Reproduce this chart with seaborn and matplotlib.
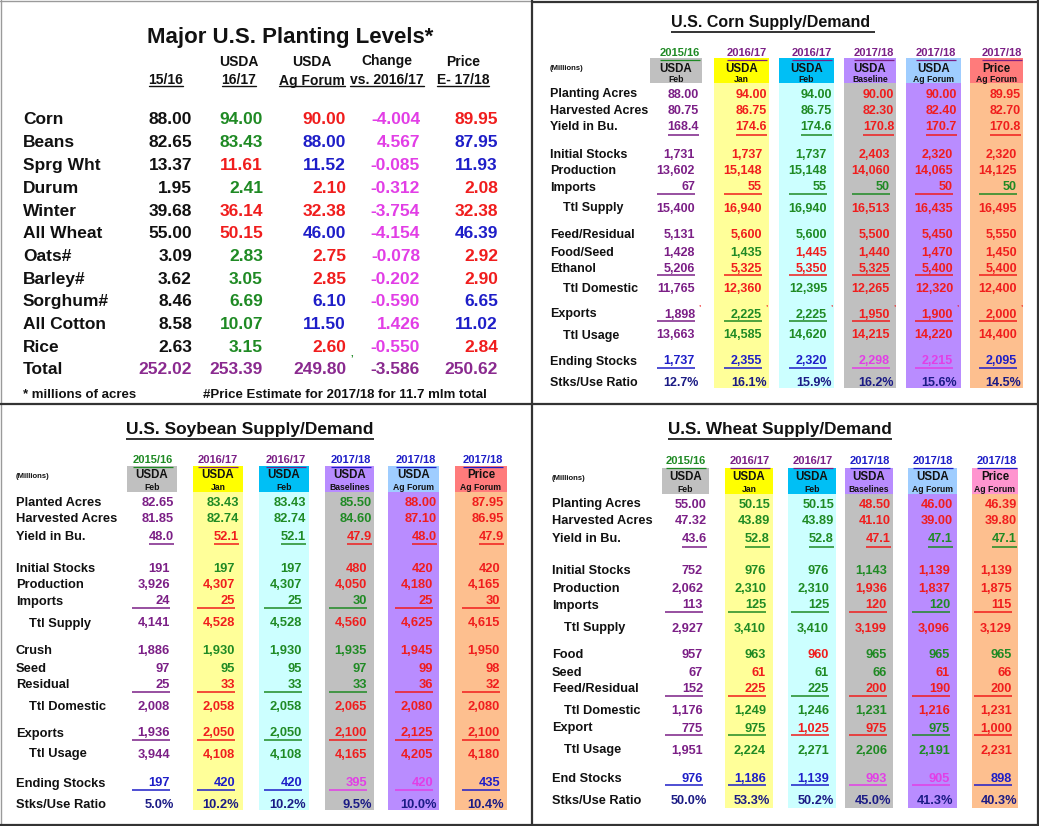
import matplotlib
matplotlib.use('Agg')
import matplotlib.pyplot as plt
import seaborn as sns

# ---------------- data: Major U.S. planting levels (millions of acres)
crops = ['Corn', 'Beans', 'Sprg Wht', 'Durum', 'Winter', 'All Wheat', 'Oats#',
         'Barley#', 'Sorghum#', 'All Cotton', 'Rice', 'Total']
plant_1516 = [88.00, 82.65, 13.37, 1.95, 39.68, 55.00, 3.09, 3.62, 8.46, 8.58, 2.63, 252.02]
plant_1617 = [94.00, 83.43, 11.61, 2.41, 36.14, 50.15, 2.83, 3.05, 6.69, 10.07, 3.15, 253.39]
plant_agforum = [90.00, 88.00, 11.52, 2.10, 32.38, 46.00, 2.75, 2.85, 6.10, 11.50, 2.60, 249.80]
plant_change = [-4.004, 4.567, -0.085, -0.312, -3.754, -4.154, -0.078, -0.202, -0.590, 1.426, -0.550, -3.586]
plant_price = [89.95, 87.95, 11.93, 2.08, 32.38, 46.39, 2.92, 2.90, 6.65, 11.02, 2.84, 250.62]

# ---------------- data: supply/demand tables
sd_years = ['2015/16', '2016/17', '2016/17', '2017/18', '2017/18', '2017/18']
sd_head = ['USDA', 'USDA', 'USDA', 'USDA', 'USDA', 'Price']
corn_sub = ['Feb', 'Jan', 'Feb', 'Baseline', 'Ag Forum', 'Ag Forum']
beans_sub = ['Feb', 'Jan', 'Feb', 'Baselines', 'Ag Forum', 'Ag Forum']
wheat_sub = beans_sub

corn_rows = ['Planting Acres', 'Harvested Acres', 'Yield in Bu.', 'Initial Stocks',
             'Production', 'Imports', 'Ttl Supply', 'Feed/Residual', 'Food/Seed',
             'Ethanol', 'Ttl Domestic', 'Exports', 'Ttl Usage', 'Ending Stocks',
             'Stks/Use Ratio']
corn_values = [
    [88.00, 94.00, 94.00, 90.00, 90.00, 89.95],
    [80.75, 86.75, 86.75, 82.30, 82.40, 82.70],
    [168.4, 174.6, 174.6, 170.8, 170.7, 170.8],
    [1731, 1737, 1737, 2403, 2320, 2320],
    [13602, 15148, 15148, 14060, 14065, 14125],
    [67, 55, 55, 50, 50, 50],
    [15400, 16940, 16940, 16513, 16435, 16495],
    [5131, 5600, 5600, 5500, 5450, 5550],
    [1428, 1435, 1445, 1440, 1470, 1450],
    [5206, 5325, 5350, 5325, 5400, 5400],
    [11765, 12360, 12395, 12265, 12320, 12400],
    [1898, 2225, 2225, 1950, 1900, 2000],
    [13663, 14585, 14620, 14215, 14220, 14400],
    [1737, 2355, 2320, 2298, 2215, 2095],
    [12.7, 16.1, 15.9, 16.2, 15.6, 14.5],
]

beans_rows = ['Planted Acres', 'Harvested Acres', 'Yield in Bu.', 'Initial Stocks',
              'Production', 'Imports', 'Ttl Supply', 'Crush', 'Seed', 'Residual',
              'Ttl Domestic', 'Exports', 'Ttl Usage', 'Ending Stocks', 'Stks/Use Ratio']
beans_values = [
    [82.65, 83.43, 83.43, 85.50, 88.00, 87.95],
    [81.85, 82.74, 82.74, 84.60, 87.10, 86.95],
    [48.0, 52.1, 52.1, 47.9, 48.0, 47.9],
    [191, 197, 197, 480, 420, 420],
    [3926, 4307, 4307, 4050, 4180, 4165],
    [24, 25, 25, 30, 25, 30],
    [4141, 4528, 4528, 4560, 4625, 4615],
    [1886, 1930, 1930, 1935, 1945, 1950],
    [97, 95, 95, 97, 99, 98],
    [25, 33, 33, 33, 36, 32],
    [2008, 2058, 2058, 2065, 2080, 2080],
    [1936, 2050, 2050, 2100, 2125, 2100],
    [3944, 4108, 4108, 4165, 4205, 4180],
    [197, 420, 420, 395, 420, 435],
    [5.0, 10.2, 10.2, 9.5, 10.0, 10.4],
]

wheat_rows = ['Planting Acres', 'Harvested Acres', 'Yield in Bu.', 'Initial Stocks',
              'Production', 'Imports', 'Ttl Supply', 'Food', 'Seed', 'Feed/Residual',
              'Ttl Domestic', 'Export', 'Ttl Usage', 'End Stocks', 'Stks/Use Ratio']
wheat_values = [
    [55.00, 50.15, 50.15, 48.50, 46.00, 46.39],
    [47.32, 43.89, 43.89, 41.10, 39.00, 39.80],
    [43.6, 52.8, 52.8, 47.1, 47.1, 47.1],
    [752, 976, 976, 1143, 1139, 1139],
    [2062, 2310, 2310, 1936, 1837, 1875],
    [113, 125, 125, 120, 120, 115],
    [2927, 3410, 3410, 3199, 3096, 3129],
    [957, 963, 960, 965, 965, 965],
    [67, 61, 61, 66, 61, 66],
    [152, 225, 225, 200, 190, 200],
    [1176, 1249, 1246, 1231, 1216, 1231],
    [775, 975, 1025, 975, 975, 1000],
    [1951, 2224, 2271, 2206, 2191, 2231],
    [976, 1186, 1139, 993, 905, 898],
    [50.0, 53.3, 50.2, 45.0, 41.3, 40.3],
]

# ---------------- styles
PAL = {'K': '#111111', 'P': '#7b1f86', 'R': '#f01d1d', 'G': '#1f8a24',
       'B': '#1e1ec8', 'M': '#e23ee6', 'N': '#1b1b85', 'V': '#8a2a8f'}

plant_colors = ['KGRMR', 'KGBMB', 'KRBMB', 'KGRMR', 'KRRMR', 'KRBMB',
                'KGRMR', 'KGRMR', 'KGBMB', 'KGBMB', 'KGRMR', 'VVVVV']

corn_colors = ['PRGRRR', 'PRGRRR', 'PRGRRR', 'PRGRRR', 'PRGRRR', 'PRGGRG', 'PRGRRR',
               'PRGRRR', 'PGRRRR', 'PRRRRR', 'PRGRRR', 'PGGRRR', 'PGGRRR',
               'BBBMMB', 'NNNNNN']
beans_colors = ['PGGGRR', 'PGGGRR', 'PRGRRR', 'PGGRRR', 'PRGRRR', 'PRGGRR', 'PRGRRR',
                'PGGGRR', 'PGGGRR', 'PRGGRR', 'PRGRRR', 'PRGRRR', 'PRGRRR',
                'BBBMMB', 'NNNNNN']
wheat_colors = ['PGGRRR', 'PGGRRR', 'PGGRGG', 'PGGGRR', 'PGGRRR', 'PGGRGR', 'PGGRRR',
                'PGRGGG', 'PRGGRR', 'PRGRRR', 'PGGGRR', 'PGRRGR', 'PGGGGR',
                'BBBMMB', 'NNNNNN']
year_colors_corn = ['G', 'P', 'P', 'P', 'P', 'P']
year_colors_bw = ['G', 'P', 'P', 'B', 'B', 'B']

head_fill = ['#c0c0c0', '#ffff00', '#00bff5', '#b88cff', '#9fcdff', '#ff7b7b']
body_fill = [None, '#ffff99', '#ccffff', '#c0c0c0', '#b98cff', '#fdbf8f']

sns.set_theme(style='white')
plt.rcParams['font.family'] = ['Liberation Sans', 'DejaVu Sans']
plt.rcParams['font.weight'] = 'bold'

fig = plt.figure(figsize=(10.39, 8.26), dpi=100)
ax = fig.add_axes([0, 0, 1, 1])
ax.set_xlim(0, 1039)
ax.set_ylim(826, 0)
ax.axis('off')
renderer = fig.canvas.get_renderer()
VA = 'center_baseline'


def underline(t, dy, color, lw=1.1):
    bb = t.get_window_extent(renderer).transformed(ax.transData.inverted())
    y = max(bb.y0, bb.y1) + dy
    ax.plot([bb.x0, bb.x1], [y, y], color=color, lw=lw, solid_capstyle='butt')


def fmt(v, r, nrows):
    if r < 2:
        return f'{v:.2f}'
    if r == 2:
        return f'{v:.1f}'
    if r == nrows - 1:
        return f'{v:.1f}%'
    return f'{v:,.0f}'


# ---------------- top-left: planting levels
t = ax.text(290, 35, 'Major U.S. Planting Levels*', fontsize=16, ha='center',
            va=VA, color='#111111')
hx = [166, 239, 312, 387, 463]
head1 = ['', 'USDA', 'USDA', 'Change', 'Price']
head2 = ['15/16', '16/17', 'Ag Forum', 'vs. 2016/17', 'E- 17/18']
for x, a, b in zip(hx, head1, head2):
    ax.text(x, 60, a, fontsize=10, ha='center', va=VA, color='#111111')
    tb = ax.text(x, 79, b, fontsize=10, ha='center', va=VA, color='#111111')
    bb = tb.get_window_extent(renderer).transformed(ax.transData.inverted())
    ax.plot([bb.x0, bb.x1], [86, 86], color='#111111', lw=1.0)
plant_cols = [plant_1516, plant_1617, plant_agforum, plant_change, plant_price]
plant_right = [192, 263, 346, 420, 498]
plant_y = [118, 141, 164, 187, 210, 232, 255, 278, 300, 323, 346, 368]
for i, crop in enumerate(crops):
    y = plant_y[i]
    ax.text(23, y, crop, fontsize=12.5, va=VA, color='#111111')
    for j, col in enumerate(plant_cols):
        s = f'{col[i]:.3f}' if j == 3 else f'{col[i]:.2f}'
        ax.text(plant_right[j], y, s, fontsize=12.5, ha='right', va=VA,
                color=PAL[plant_colors[i][j]])
ax.text(350, 360, '\u02bc', fontsize=7, color=PAL['G'], va='center')
ax.text(23, 393, '* millions of acres', fontsize=9.5, va=VA, color='#111111')
ax.text(203, 393, '#Price Estimate for 2017/18 for 11.7 mlm total', fontsize=9.5,
        va=VA, color='#111111')


# ---------------- supply/demand panels
def sd_panel(lay, title, rows, values, colors, subs, year_cols, fills_head):
    tt = ax.text(lay['title'][0], lay['title'][1], title, fontsize=lay['tsize'],
                 ha='center', va=VA, color='#111111')
    underline(tt, 2, '#111111', 1.2)
    ax.text(lay['label_x'], lay['mill_y'], '(Millions)', fontsize=5.5, va=VA,
            color='#111111')
    y0, y1 = lay['box_y']
    for j in range(6):
        xl, xr = lay['box_x'][j]
        ax.bar((xl + xr) / 2, y1 - y0, bottom=y0, width=xr - xl, color=fills_head[j],
               linewidth=0)
        if body_fill[j]:
            ax.bar((xl + xr) / 2, lay['body_end'] - y1, bottom=y1, width=xr - xl,
                   color=body_fill[j], linewidth=0)
        cx = (xl + xr) / 2
        ty = ax.text(lay['year_x'][j], lay['year_y'], sd_years[j], fontsize=8,
                     ha='center', va=VA, color=PAL[year_cols[j]])
        underline(ty, 1.5, PAL[year_cols[j]], 0.9)
        ax.text(cx, lay['usda_y'], sd_head[j], fontsize=8.3, ha='center', va=VA,
                color='#111111')
        ax.text(cx, lay['sub_y'], subs[j], fontsize=6.2, ha='center', va=VA,
                color='#111111')
    n = len(rows)
    for r, lab in enumerate(rows):
        y = lay['rows'][r]
        x = lay['label_x'] + (lay['indent'] if lab.startswith('Ttl') else 0)
        ax.text(x, y, lab, fontsize=lay['lsize'], va=VA, color='#111111')
        for j in range(6):
            c = PAL[colors[r][j]]
            s = fmt(values[r][j], r, n)
            if r < 3 or r == n - 1:
                xr = lay['dec_r'][j]
            else:
                xr = lay['int_r'][j]
            tv = ax.text(xr, y, s, fontsize=lay['vsize'], ha='right', va=VA,
                         color=c)
            if r == 2:
                underline(tv, 1.5, c, 1.1)
            elif r in lay['lines']:
                ax.plot([xr - 38, xr], [y + 7.5, y + 7.5], color=c, lw=1.1,
                        solid_capstyle='butt')
            if lay.get('marks') == r:
                ax.text(xr + 3, y - 5, '\u02bc', fontsize=6, color=PAL['R'],
                        va='center')


corn_lay = dict(
    title=(773, 21), tsize=11.5, label_x=550, mill_y=67, indent=13,
    year_y=52, year_x=[680, 747, 812, 874, 936, 1002],
    box_x=[(650, 702), (714, 769), (779, 834), (844, 896), (906, 961), (970, 1023)],
    box_y=(58, 83), usda_y=67, sub_y=79, body_end=388,
    rows=[93, 109, 126, 154, 170, 186, 207, 234, 251, 267, 288, 313, 334, 360, 382],
    dec_r=[699, 767, 832, 894, 957, 1021], int_r=[695, 762, 827, 890, 953, 1017],
    lines=[5, 9, 11, 13], marks=11, lsize=9, vsize=9)

beans_lay = dict(
    title=(250, 428), tsize=12.5, label_x=16, mill_y=476, indent=13,
    year_y=459, year_x=[153, 218, 286, 351, 416, 483],
    box_x=[(127, 177), (193, 243), (259, 309), (325, 374), (388, 439), (455, 507)],
    box_y=(466, 492), usda_y=474, sub_y=487, body_end=810,
    rows=[501, 518, 535, 567, 583, 600, 622, 650, 667, 684, 706, 732, 753, 782, 803],
    dec_r=[174, 239, 306, 372, 437, 504], int_r=[170, 235, 302, 367, 433, 500],
    lines=[5, 9, 11, 13], lsize=9.3, vsize=9.3)

wheat_lay = dict(
    title=(780, 428), tsize=12.3, label_x=552, mill_y=477, indent=12,
    year_y=460, year_x=[686, 750, 813, 870, 933, 997],
    box_x=[(662, 709), (725, 773), (788, 836), (845, 893), (908, 957), (972, 1018)],
    box_y=(468, 494), usda_y=476, sub_y=488, body_end=808,
    rows=[503, 520, 538, 569, 587, 604, 627, 654, 671, 688, 710, 727, 749, 777, 799],
    dec_r=[707, 770, 834, 891, 953, 1017], int_r=[703, 766, 829, 887, 950, 1012],
    lines=[5, 9, 11, 13], lsize=9.2, vsize=9.2)

sd_panel(corn_lay, 'U.S. Corn Supply/Demand ', corn_rows, corn_values, corn_colors,
         corn_sub, year_colors_corn, head_fill)
sd_panel(beans_lay, 'U.S. Soybean Supply/Demand', beans_rows, beans_values,
         beans_colors, beans_sub, year_colors_bw, head_fill)
sd_panel(wheat_lay, 'U.S. Wheat Supply/Demand', wheat_rows, wheat_values,
         wheat_colors, wheat_sub, year_colors_bw, head_fill[:5] + ['#ff95cf'])

# ---------------- panel borders
ax.plot([1, 1], [0, 826], color='#9a9a9a', lw=1.0)
ax.plot([0, 532], [1, 1], color='#9a9a9a', lw=1.0)
ax.plot([532, 1039], [1.5, 1.5], color='#333333', lw=1.6)
ax.plot([532, 532], [0, 826], color='#333333', lw=1.6)
ax.plot([1037.5, 1037.5], [0, 826], color='#333333', lw=1.6)
ax.plot([0, 1039], [403.5, 403.5], color='#333333', lw=1.6)
ax.plot([0, 1039], [824.5, 824.5], color='#333333', lw=1.6)

fig.savefig('out.png', dpi=100)
